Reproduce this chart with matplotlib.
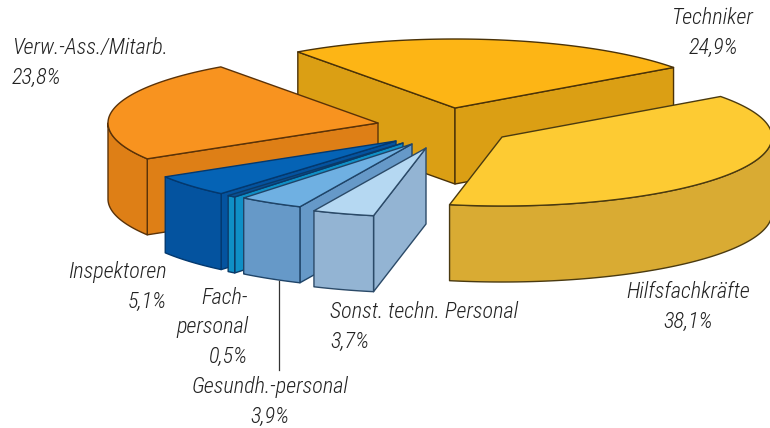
import numpy as np
import matplotlib
matplotlib.use('Agg')
import matplotlib.pyplot as plt

# clockwise from the Techniker slice
names = ['Techniker', 'Hilfsfachkräfte', 'Sonst. techn. Personal', 'Gesundh.-personal',
         'Fach-\npersonal', 'Inspektoren', 'Verw.-Ass./Mitarb.']
shares = [24.9, 38.1, 3.7, 3.9, 0.5, 5.1, 23.8]

top_colors = ['#FDB515', '#FDCB33', '#B5D8F2', '#6FB0E2', '#0B4F92', '#0563B5', '#F8931F']
wall_colors = ['#DB9F14', '#D9AB33', '#93B4D3', '#6699C8', '#0F8FC6', '#04539F', '#DE7F16']
rim_colors = ['#4A3208', '#4A3A10', '#2B4A68', '#1F4468', '#0A3A68', '#03386E', '#5A3208']
# slice tip in pixels, the slices are pulled apart
tips = [(455, 108), (502, 137), (426, 148), (412, 144), (403, 143), (396, 141), (378, 123)]
draw_order = [0, 6, 1, 5, 4, 3, 2]

start_angle = 125.6
a, b = 270., 69.
depth = 76.

label_x = [713, 688, 330, 270, 248, 167, 12]
label_y = [18, 292, 312, 387, 298, 272, 48]
label_ha = ['center', 'center', 'left', 'center', 'right', 'right', 'left']
pitch = 29.5


def arc(tip, t1, t2, drop=0.):
    t = np.radians(np.linspace(t1, t2, 120))
    return tip[0] + a*np.cos(t), tip[1] - b*np.sin(t) + drop


def wall(ax, xs, ys, color, rim):
    px = np.concatenate([xs, xs[::-1]])
    py = np.concatenate([ys, ys[::-1] + depth])
    ax.fill(px, py, facecolor=color, edgecolor=rim, lw=1.0, joinstyle='round')


def slice3d(ax, tip, t1, t2, top, side, rim):
    # radial cuts first, only those turned to the viewer
    for t, vis in ((t1, np.cos(np.radians(t1)) < 0), (t2, np.cos(np.radians(t2)) > 0)):
        if vis:
            xr, yr = arc(tip, t, t)
            wall(ax, np.array([tip[0], xr[0]]), np.array([tip[1], yr[0]]), side, rim)
    # outer rim, front half only
    lo = max(t2, -180.)
    hi = min(t1, 0.)
    if hi > lo:
        xa, ya = arc(tip, hi, lo)
        wall(ax, xa, ya, side, rim)
    xa, ya = arc(tip, t1, t2)
    ax.fill(np.r_[tip[0], xa], np.r_[tip[1], ya], facecolor=top, edgecolor=rim, lw=1.0, joinstyle='round')


fig = plt.figure(figsize=(7.7, 4.28), dpi=100)
ax = fig.add_axes([0, 0, 1, 1])
ax.set_xlim(0, 770)
ax.set_ylim(428, 0)
ax.axis('off')

edges = start_angle - np.r_[0, np.cumsum(shares)] * 3.6
for i in draw_order:
    slice3d(ax, tips[i], edges[i], edges[i+1], top_colors[i], wall_colors[i], rim_colors[i])

# leader for Gesundh.-personal
ax.plot([279, 279], [281, 370], color='#333333', lw=0.9)

for i in range(len(names)):
    lines = names[i].split('\n') + [f'{shares[i]:.1f}%'.replace('.', ',')]
    for n, line in enumerate(lines):
        ax.text(label_x[i], label_y[i] + n*pitch, line, ha=label_ha[i], va='center',
                style='italic', weight='light', fontsize=16, color='#222222',
                family=['Roboto Condensed', 'Roboto', 'DejaVu Sans'])

fig.savefig('out.png', dpi=100)
